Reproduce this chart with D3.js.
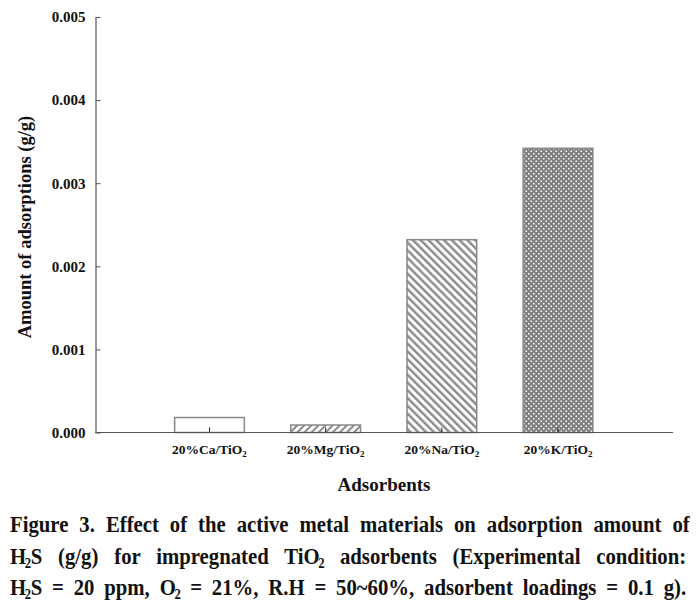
<!DOCTYPE html>
<html>
<head>
<meta charset="utf-8">
<script src="https://cdn.jsdelivr.net/npm/d3@7"></script>
<style>
  html, body { margin: 0; padding: 0; background: #fff; }
  svg { display: block; }
  svg text { font-family: "Liberation Serif", "Times New Roman", serif; font-weight: bold; fill: #111; }
</style>
</head>
<body>
<svg id="chart" width="699" height="601"></svg>
<script>
// ---- data ----
const categories = ["Ca", "Mg", "Na", "K"];
const values = [0.00018, 0.00009, 0.00232, 0.00342];
const patterns = ["none", "fwd", "back", "cross"];
const yTicks = [0, 0.001, 0.002, 0.003, 0.004, 0.005];
const yTitle = "Amount of adsorptions (g/g)";
const xTitle = "Adsorbents";
// caption lines: arrays of segments [text, isSubscript]
const captionLines = [
  [["Figure 3. Effect of the active metal materials on adsorption amount of", false]],
  [["H", false], ["2", true], ["S (g/g) for impregnated TiO", false], ["2", true], [" adsorbents (Experimental condition:", false]],
  [["H", false], ["2", true], ["S = 20 ppm, O", false], ["2", true], [" = 21%, R.H = 50~60%, adsorbent loadings = 0.1 g).", false]]
];

const FONT = "'Liberation Serif', 'Times New Roman', serif";
const svg = d3.select("#chart");
const axisColor = "#555";
const barStroke = "#888";

// ---- patterns ----
const defs = svg.append("defs");
const pf = defs.append("pattern").attr("id", "fwd").attr("patternUnits", "userSpaceOnUse")
  .attr("width", 5).attr("height", 5).attr("patternTransform", "rotate(45)");
pf.append("rect").attr("width", 5).attr("height", 5).attr("fill", "#fff");
pf.append("rect").attr("width", 2).attr("height", 5).attr("fill", "#8a8a8a");

const pb = defs.append("pattern").attr("id", "back").attr("patternUnits", "userSpaceOnUse")
  .attr("width", 5.5).attr("height", 5.5).attr("patternTransform", "rotate(-45)");
pb.append("rect").attr("width", 5.5).attr("height", 5.5).attr("fill", "#fff");
pb.append("rect").attr("width", 2.4).attr("height", 5.5).attr("fill", "#8a8a8a");

const pc = defs.append("pattern").attr("id", "cross").attr("patternUnits", "userSpaceOnUse")
  .attr("width", 5).attr("height", 5);
pc.append("rect").attr("width", 5).attr("height", 5).attr("fill", "#808080");
pc.append("rect").attr("x", 0.5).attr("y", 0.5).attr("width", 1.5).attr("height", 1.5).attr("fill", "#fff");
pc.append("rect").attr("x", 3).attr("y", 3).attr("width", 1.5).attr("height", 1.5).attr("fill", "#fff");

// ---- scales ----
const y = d3.scaleLinear().domain([0, 0.005]).range([432.5, 17]);
const x = d3.scaleBand().domain(categories).range([151.4, 616.1])
  .paddingInner(0.4).paddingOuter(0.2);
const axisX0 = 95.5, axisX1 = 673;

// ---- bars ----
svg.append("g").selectAll("rect").data(categories).join("rect")
  .attr("x", d => x(d))
  .attr("y", (d, i) => y(values[i]))
  .attr("width", x.bandwidth())
  .attr("height", (d, i) => y(0) - y(values[i]))
  .attr("fill", (d, i) => patterns[i] === "none" ? "#fff" : `url(#${patterns[i]})`)
  .attr("stroke", barStroke)
  .attr("stroke-width", 1.5);

// ---- y axis ----
const yAxis = svg.append("g").attr("transform", `translate(${axisX0},0)`)
  .call(d3.axisLeft(y).tickValues(yTicks).tickFormat(d3.format(".3f"))
    .tickSizeInner(-5).tickSizeOuter(0).tickPadding(10));
yAxis.attr("font-family", FONT);
yAxis.select(".domain").attr("stroke", axisColor).attr("stroke-width", 1.2);
yAxis.selectAll(".tick line").attr("stroke", axisColor);
yAxis.selectAll(".tick text").attr("font-family", FONT).style("font-size", "15px").attr("fill", "#111");

// ---- x axis ----
const xAxis = svg.append("g").attr("transform", `translate(0,${y(0)})`)
  .call(d3.axisBottom(x).tickFormat("").tickSizeInner(-5).tickSizeOuter(0));
xAxis.attr("font-family", FONT);
xAxis.select(".domain").remove();
xAxis.selectAll(".tick line").attr("stroke", "#222");
xAxis.append("line").attr("x1", axisX0).attr("x2", axisX1)
  .attr("y1", 0).attr("y2", 0).attr("stroke", axisColor).attr("stroke-width", 1.2);
xAxis.selectAll(".tick").each(function(d) {
  const t = d3.select(this).append("text").attr("font-family", FONT)
    .attr("y", 21).attr("text-anchor", "middle").style("font-size", "13.5px");
  t.append("tspan").text(`20%${d}/TiO`);
  t.append("tspan").attr("dy", 3).style("font-size", "9px").text("2");
});

// ---- axis titles ----
svg.append("text").attr("font-family", FONT).attr("transform", `translate(31,227) rotate(-90)`)
  .attr("text-anchor", "middle").style("font-size", "18.5px").text(yTitle);
svg.append("text").attr("font-family", FONT).attr("x", 384).attr("y", 491).attr("text-anchor", "middle")
  .style("font-size", "19px").text(xTitle);

// ---- caption (justified, condensed glyphs) ----
const capLeft = 10, capRight = 690, capSize = 23, gap = 11;
const baselines = [532, 563.5, 595];
const spaceW = 0.25 * capSize;
let sx = null;
captionLines.forEach((segs, li) => {
  const g = svg.append("g").attr("transform", `translate(${capLeft},${baselines[li]})`);
  const t = g.append("text").attr("font-family", FONT).attr("x", 0).attr("y", 0)
    .style("font-size", capSize + "px");
  segs.forEach(([s, sub], i) => {
    const ts = t.append("tspan").text(s);
    if (sub) ts.style("font-size", "14px").attr("dy", 4).attr("dx", -1.5);
    else if (i > 0 && segs[i - 1][1]) ts.attr("dy", -4).attr("dx", -0.5);
  });
  const natural = t.node().getComputedTextLength();
  const fullText = segs.map(s => s[0]).join("");
  const nSpaces = (fullText.match(/ /g) || []).length;
  const glyphs = natural - nSpaces * spaceW;
  if (sx === null) sx = (capRight - capLeft - nSpaces * gap) / glyphs;
  // word spacing in unscaled units so that the scaled line spans exactly capRight-capLeft
  const ws = ((capRight - capLeft) / sx - natural) / nSpaces;
  t.attr("word-spacing", ws);
  g.attr("transform", `translate(${capLeft},${baselines[li]}) scale(${sx},1)`);
});
</script>
</body>
</html>
